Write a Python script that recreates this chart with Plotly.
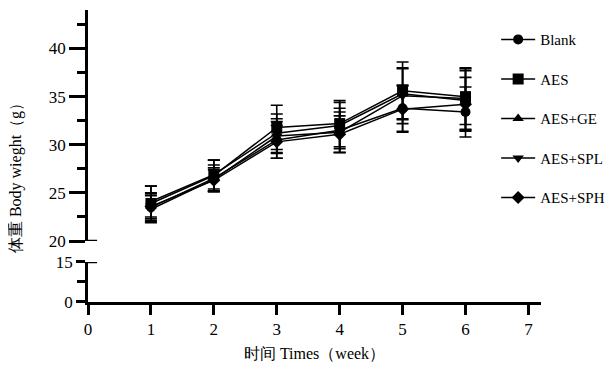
import plotly.graph_objects as go

weeks = [1, 2, 3, 4, 5, 6]
series_names = ["Blank", "AES", "AES+GE", "AES+SPL", "AES+SPH"]
blank = [23.5, 26.5, 30.5, 31.5, 33.8, 33.4]
aes = [23.9, 26.8, 31.8, 32.2, 35.6, 35.0]
aes_ge = [24.1, 26.9, 31.2, 32.0, 35.3, 34.6]
aes_spl = [23.3, 26.4, 30.9, 31.3, 35.1, 34.8]
aes_sph = [23.6, 26.3, 30.3, 31.1, 33.7, 34.2]
blank_sd = [1.5, 1.4, 1.9, 2.3, 2.4, 2.6]
aes_sd = [1.8, 1.6, 2.3, 2.4, 3.0, 2.9]
aes_ge_sd = [1.6, 1.5, 2.0, 2.4, 2.6, 3.1]
aes_spl_sd = [1.4, 1.2, 1.8, 2.1, 2.9, 3.2]
aes_sph_sd = [1.3, 1.1, 1.7, 1.9, 2.4, 2.8]

x_ticks = [0, 1, 2, 3, 4, 5, 6, 7]
upper_ticks = [20, 25, 30, 35, 40]
lower_ticks = [0, 15]

values = [blank, aes, aes_ge, aes_spl, aes_sph]
sds = [blank_sd, aes_sd, aes_ge_sd, aes_spl_sd, aes_sph_sd]
symbols = ["circle", "square", "triangle-up", "triangle-down", "diamond"]
sizes = [10, 11, 10, 10, 10]

SERIF = "Liberation Serif"

fig = go.Figure()
for name, v, sd, sym, sz in zip(series_names, values, sds, symbols, sizes):
    fig.add_trace(go.Scatter(
        x=weeks, y=v, name=name, mode="lines+markers",
        xaxis="x", yaxis="y2", legendgroup=name,
        line=dict(color="black", width=1.5),
        marker=dict(symbol=sym, size=sz, color="black"),
        error_y=dict(type="data", array=sd, visible=True,
                     color="black", thickness=1.6, width=6),
    ))

axis_common = dict(showline=True, linecolor="black", linewidth=2.5,
                   ticks="outside", tickcolor="black", tickwidth=2.5,
                   showgrid=False, zeroline=False, automargin=False,
                   tickfont=dict(family=SERIF, size=17, color="black"))

fig.update_layout(
    template="none",
    width=599, height=354,
    margin=dict(l=80, r=66, t=2, b=60, autoexpand=False),
    paper_bgcolor="white", plot_bgcolor="white",
    font=dict(family=SERIF, color="black"),
    xaxis=dict(range=[0, 7.2], tickvals=x_ticks, anchor="y", ticklen=10,
               title=dict(text="时间 Times（week）", font=dict(family=SERIF, size=16), standoff=17),
               **axis_common),
    yaxis=dict(domain=[0, 0.137], range=[0, 15], tickvals=lower_ticks, anchor="x",
               ticklen=9,
               minor=dict(tickvals=[7.5], ticklen=8, tickwidth=2.5, tickcolor="black", ticks="outside"),
               **axis_common),
    yaxis2=dict(domain=[0.2089, 1], range=[20, 44], tickvals=upper_ticks, anchor="x",
                ticklen=16,
                minor=dict(dtick=2.5, tick0=0, ticklen=8, tickwidth=2.5, tickcolor="black", ticks="outside"),
                **axis_common),
    legend=dict(x=0.901, xanchor="left", y=0.955, yanchor="top",
                font=dict(family=SERIF, size=15, color="black"),
                tracegroupgap=17, bgcolor="rgba(0,0,0,0)", maxheight=320,
                itemwidth=34),
    showlegend=True,
)

fig.add_annotation(text="体重 Body wieght（g）", textangle=-90, xref="paper", yref="paper",
                   x=0, xshift=-72, xanchor="center", y=0.438, showarrow=False,
                   font=dict(family=SERIF, size=16, color="black"))

fig.add_shape(type="line", xref="x domain", yref="y2", x0=0, x1=0.02, y0=20, y1=20,
              line=dict(color="black", width=2.5))
fig.add_shape(type="line", xref="x domain", yref="y", x0=0, x1=0.02, y0=15, y1=15,
              line=dict(color="black", width=2.5))

fig.write_html("out.html")
